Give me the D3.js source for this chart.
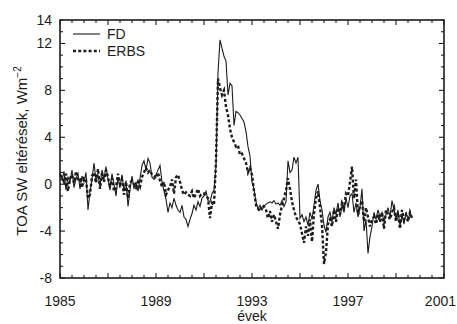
<!DOCTYPE html>
<html><head><meta charset="utf-8">
<script src="https://cdn.jsdelivr.net/npm/d3@7"></script>
<style>
html,body{margin:0;padding:0;background:#fff;}
svg{display:block;font-family:"Liberation Sans",Arial,Helvetica,sans-serif;}
</style></head>
<body><svg id="c" width="457" height="324"></svg>
<script>
// Monthly anomalies (W m-2), starting January 1985
const startYear = 1985;
const fdValues = [
  // 1985
  1.0, 0.3, 1.1, -0.5, 0.6, 0.2, 1.2, -0.3, 0.5, 0.9, -0.4, 0.7,
  // 1986
  0.2, 1.0, -2.2, -0.6, 0.4, 1.8, 0.3, 0.8, -0.2, 1.2, 0.5, 1.5,
  // 1987
  0.4, -0.5, 0.9, 0.0, -1.0, 0.6, -0.3, 0.8, -0.6, 0.3, -1.9, -0.5,
  // 1988
  0.7, -0.4, 0.2, -0.6, 0.5, 1.6, 2.0, 1.2, 2.2, 1.8, 0.6, 0.4,
  // 1989
  0.8, 1.2, 1.6, 0.2, -0.6, -1.3, -2.4, -1.6, -2.0, -1.2, -1.8, -2.2,
  // 1990
  -2.4, -1.8, -2.8, -3.0, -3.6, -3.0, -2.5, -1.8, -2.2, -1.5, -1.9, -1.2,
  // 1991
  -1.0, -0.6, -1.4, -1.5, -0.8, -0.5, 1.5, 9.5, 12.3, 11.6, 10.9, 10.5,
  // 1992
  7.6, 8.6, 8.4, 5.0, 6.2, 6.1, 5.9, 5.6, 5.3, 4.5, 3.2, 2.4,
  // 1993
  0.2, -0.4, -1.5, -2.1, -1.8, -2.2, -1.9, -1.7, -1.6, -1.5, -1.6, -1.4,
  // 1994
  -1.7, -1.6, -1.8, -1.4, -1.9, -1.5, 2.0, 1.0, 1.2, 2.3, 1.8, 2.3,
  // 1995
  -2.9, -2.6, -3.2, -2.8, -3.5, -2.4, -3.0, -1.8, -0.5, 0.0, -1.4, -2.2,
  // 1996
  -3.5, -4.1, -2.8, -2.4, -3.2, -2.0, -2.6, -1.6, -2.8, -1.8, -2.4, -1.2,
  // 1997
  -2.0, -1.0, -0.8, -2.4, -1.6, -2.8, -2.0, -0.4, -4.0, -3.0, -5.9, -4.5,
  // 1998
  -3.6, -2.4, -3.0, -2.2, -2.8, -2.4, -3.2, -2.6, -2.0, -2.8, -1.4, -2.2,
  // 1999
  -3.0, -2.2, -3.6, -2.6, -3.4, -2.4, -3.0, -2.5, -2.8
];
const erbsValues = [
  // 1985
  0.8, 0.6, 0.2, 0.9, -0.6, 0.5, 0.8, 0.1, 1.1, 0.3, 0.4, -0.3,
  // 1986
  0.5, 0.4, -1.2, -0.9, 0.7, 1.0, 0.1, 1.3, -0.4, 0.9, 0.2, 1.2,
  // 1987
  0.6, -0.2, 0.5, -0.6, -0.3, 0.9, 0.0, 0.4, -0.9, 0.2, -1.2, 0.1,
  // 1988
  0.3, 0.0, -0.3, 0.2, -0.2, 0.6, 1.0, 1.4, 1.0, 1.2, 0.8, 0.7,
  // 1989
  0.5, 1.0, 0.3, -0.2, 0.2, -0.9, -0.5, -0.2, 0.4, -0.8, 0.6, 0.8,
  // 1990
  0.2, -0.5, -0.9, -0.7, -0.9, -1.0, -0.6, -1.2, -0.8, -0.4, -1.0, -0.8,
  // 1991
  -0.8, -1.0, -1.2, -2.9, -1.6, -1.8, 2.0, 9.0, 8.2, 7.6, 8.0, 6.6,
  // 1992
  5.9, 4.7, 4.0, 3.6, 3.2, 3.3, 2.5, 2.6, 2.2, 1.8, 1.0, 1.4,
  // 1993
  0.8, -0.6, -1.8, -2.1, -2.3, -1.8, -1.9, -2.2, -2.9, -2.3, -3.2, -2.6,
  // 1994
  -3.2, -3.8, -2.6, -1.8, -1.2, -0.5, 0.5, -0.4, -1.5, -2.2, -2.8, -3.1,
  // 1995
  -3.4, -4.2, -5.0, -3.6, -4.4, -3.0, -4.9, -2.5, -1.2, -0.6, -2.0, -3.5,
  // 1996
  -6.8, -5.8, -3.4, -3.0, -3.6, -2.2, -3.2, -2.0, -2.6, -1.6, -2.0, -0.8,
  // 1997
  -1.0, 0.2, 1.5, -1.2, 0.4, -2.6, -1.8, -1.4, -3.2, -2.0, -2.8, -3.6,
  // 1998
  -3.0, -2.8, -3.4, -2.6, -3.2, -2.4, -3.8, -2.2, -2.6, -3.0, -2.4, -2.0,
  // 1999
  -3.2, -2.4, -3.8, -2.2, -3.0, -2.6, -3.2, -2.4, -2.9
];
const xTickLabels = [1985, 1989, 1993, 1997, 2001];
const yTickLabels = [14, 12, 8, 4, 0, -4, -8];
const seriesNames = ["FD", "ERBS"];

const svg = d3.select("#c");
const M = {left: 60, right: 444, top: 20, bottom: 278};
const x = d3.scaleLinear().domain([1985, 2001]).range([M.left, M.right]);
const y = d3.scaleLinear().domain([-8, 14]).range([M.bottom, M.top]);
const ink = "#1c1c1c";

function toPts(vals){ return vals.map((v,i)=>({t: startYear + i/12, v})); }
const line = d3.line().x(d=>x(d.t)).y(d=>y(d.v));

// data lines
const g = svg.append("g");
g.append("path").datum(toPts(erbsValues)).attr("d", line)
  .attr("fill","none").attr("stroke",ink).attr("stroke-width",2.4)
  .attr("stroke-dasharray","3,2.2");
g.append("path").datum(toPts(fdValues)).attr("d", line)
  .attr("fill","none").attr("stroke",ink).attr("stroke-width",1.1);

// frame
svg.append("rect").attr("x",M.left).attr("y",M.top).attr("width",M.right-M.left).attr("height",M.bottom-M.top)
  .attr("fill","none").attr("stroke",ink).attr("stroke-width",1.6);

// ticks (inward, all four sides)
const xMinor = d3.range(1985, 2001.01, 0.5);
const yMinor = d3.range(-8, 14.01, 1);
const ticks = svg.append("g").attr("stroke",ink).attr("stroke-width",1.1);
xMinor.forEach(t=>{
  const len = (t % 2 === 1) ? 5 : 3;
  ticks.append("line").attr("x1",x(t)).attr("x2",x(t)).attr("y1",M.bottom).attr("y2",M.bottom-len);
  ticks.append("line").attr("x1",x(t)).attr("x2",x(t)).attr("y1",M.top).attr("y2",M.top+len);
});
yMinor.forEach(v=>{
  const len = (v % 4 === 0) ? 5 : 3;
  ticks.append("line").attr("x1",M.left).attr("x2",M.left+len).attr("y1",y(v)).attr("y2",y(v));
  ticks.append("line").attr("x1",M.right).attr("x2",M.right-len).attr("y1",y(v)).attr("y2",y(v));
});

// tick labels
const lastX = xTickLabels[xTickLabels.length-1];
svg.append("g").selectAll("text").data(xTickLabels).join("text")
  .attr("x",d=> d===lastX ? 456 : x(d)).attr("y",306)
  .attr("text-anchor",d=> d===lastX ? "end" : "middle")
  .attr("font-size",14).attr("fill",ink).text(d=>d);
svg.append("g").selectAll("text").data(yTickLabels).join("text")
  .attr("x",52).attr("y",d=>y(d)+5).attr("text-anchor","end")
  .attr("font-size",14).attr("fill",ink).text(d=>d);

// axis titles
svg.append("text").attr("x",(M.left+M.right)/2).attr("y",321).attr("text-anchor","middle")
  .attr("font-size",14).attr("fill",ink).text("évek");
const yl = svg.append("text").attr("transform","translate(27,151) rotate(-90)")
  .attr("text-anchor","middle").attr("font-size",15).attr("fill",ink);
yl.append("tspan").text("TOA SW eltérések, Wm");
yl.append("tspan").attr("font-size",10).attr("dy",-6).text("−2");

// legend
const lg = svg.append("g");
lg.append("line").attr("x1",73).attr("x2",100).attr("y1",34).attr("y2",34)
  .attr("stroke",ink).attr("stroke-width",1.1);
lg.append("line").attr("x1",73).attr("x2",100).attr("y1",51).attr("y2",51)
  .attr("stroke",ink).attr("stroke-width",2.4).attr("stroke-dasharray","3,2.2");
lg.selectAll("text").data(seriesNames).join("text")
  .attr("x",107).attr("y",(d,i)=>39+i*17).attr("font-size",14).attr("fill",ink).text(d=>d);
</script></body></html>
